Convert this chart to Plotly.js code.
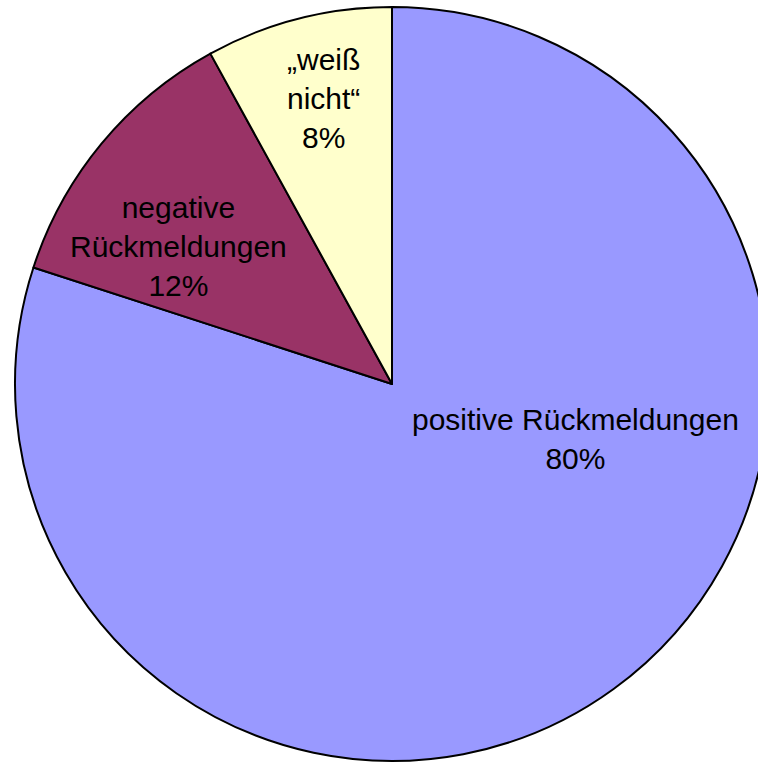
<!DOCTYPE html>
<html>
<head>
<meta charset="utf-8">
<script src="https://cdn.plot.ly/plotly-3.0.1.min.js"></script>
<style>
html,body{margin:0;padding:0;overflow:hidden;background:#fff;}
#chart{width:800px;height:763px;}
</style>
</head>
<body>
<div id="chart"></div>
<script>
// Data
const labels = ['positive Rückmeldungen', 'negative<br>Rückmeldungen', '„weiß<br>nicht“'];
const values = [80, 12, 8];
const colors = ['#9999FF', '#993366', '#FFFFCC'];

// Label placement (pixel positions in the figure)
const labelPos = [[575, 439], [178, 246], [323, 98]];

const W = 800, H = 763;
const m = {l: 15, r: 31, t: 7, b: 2};
const pw = W - m.l - m.r, ph = H - m.t - m.b;

const total = values.reduce((a, b) => a + b, 0);
const annotations = labels.map((lab, i) => ({
  xref: 'paper', yref: 'paper',
  x: (labelPos[i][0] - m.l) / pw,
  y: 1 - (labelPos[i][1] - m.t) / ph,
  xanchor: 'center', yanchor: 'middle',
  text: lab + '<br>' + Math.round(values[i] / total * 100) + '%',
  showarrow: false,
  align: 'center',
  font: {family: 'Liberation Sans, Arial, sans-serif', size: 30, color: '#000'}
}));

const trace = {
  type: 'pie',
  labels: labels,
  values: values,
  sort: false,
  direction: 'clockwise',
  rotation: 0,
  marker: {colors: colors, line: {color: '#000', width: 2}},
  textinfo: 'none',
  hoverinfo: 'none',
  showlegend: false
};

Plotly.newPlot('chart', [trace], {
  width: W, height: H,
  margin: m,
  paper_bgcolor: '#fff',
  plot_bgcolor: '#fff',
  showlegend: false,
  annotations: annotations
}, {staticPlot: true});
</script>
</body>
</html>
